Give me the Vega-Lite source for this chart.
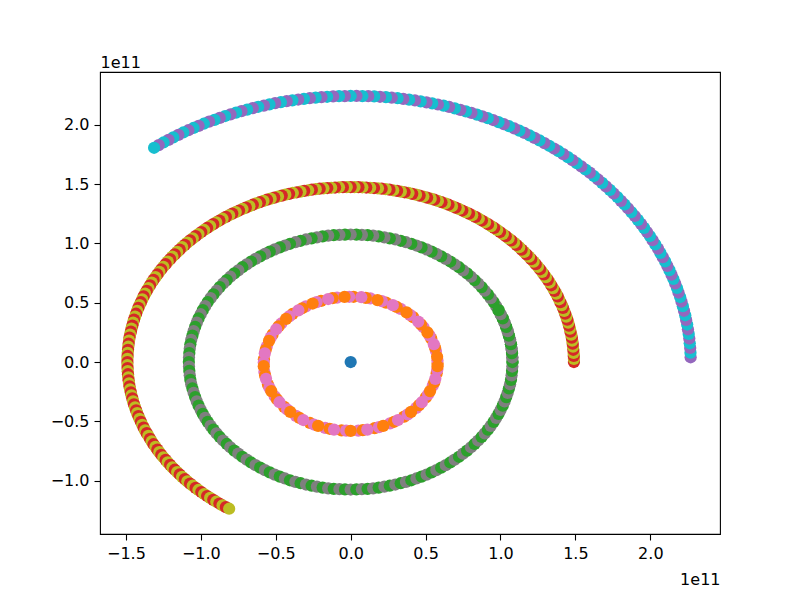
{
  "$schema": "https://vega.github.io/schema/vega-lite/v6.json",
  "description": "Orbits of the inner planets around the Sun, positions in units of 1e11 m.",
  "width": 620,
  "height": 462,
  "autosize": {"type": "none"},
  "padding": {"left": 100, "top": 72, "right": 80, "bottom": 66},
  "background": "white",
  "data": {
    "values": [
      {"series":"Me1","x":0.580,"y":-0.015},{"series":"Me2","x":0.569,"y":0.093},{"series":"Me1","x":0.538,"y":0.197},{"series":"Me2","x":0.486,"y":0.293},
      {"series":"Me1","x":0.417,"y":0.378},{"series":"Me2","x":0.333,"y":0.448},{"series":"Me1","x":0.236,"y":0.501},{"series":"Me2","x":0.131,"y":0.536},
      {"series":"Me1","x":0.020,"y":0.550},{"series":"Me2","x":-0.091,"y":0.543},{"series":"Me1","x":-0.198,"y":0.516},{"series":"Me2","x":-0.299,"y":0.469},
      {"series":"Me1","x":-0.388,"y":0.405},{"series":"Me2","x":-0.463,"y":0.325},{"series":"Me1","x":-0.521,"y":0.233},{"series":"Me2","x":-0.560,"y":0.131},
      {"series":"Me1","x":-0.579,"y":0.024},{"series":"Me2","x":-0.576,"y":-0.084},{"series":"Me1","x":-0.552,"y":-0.190},{"series":"Me2","x":-0.507,"y":-0.289},
      {"series":"Me1","x":-0.444,"y":-0.378},{"series":"Me2","x":-0.365,"y":-0.454},{"series":"Me1","x":-0.272,"y":-0.514},{"series":"Me2","x":-0.170,"y":-0.555},
      {"series":"Me1","x":-0.061,"y":-0.577},{"series":"Me2","x":0.051,"y":-0.578},{"series":"Me1","x":0.160,"y":-0.558},{"series":"Me2","x":0.263,"y":-0.518},
      {"series":"Me1","x":0.357,"y":-0.460},{"series":"Me2","x":0.438,"y":-0.386},{"series":"Me1","x":0.502,"y":-0.298},{"series":"Me2","x":0.548,"y":-0.199},
      {"series":"Me1","x":0.574,"y":-0.094},{"series":"Me2","x":0.579,"y":0.015},{"series":"Me1","x":0.563,"y":0.122},{"series":"Me2","x":0.526,"y":0.224},
      {"series":"Me1","x":0.469,"y":0.317},{"series":"Me2","x":0.396,"y":0.398},{"series":"Me1","x":0.307,"y":0.464},{"series":"Me2","x":0.208,"y":0.513},
      {"series":"Me1","x":0.101,"y":0.541},{"series":"Me2","x":-0.010,"y":0.550},{"series":"Me1","x":-0.121,"y":0.538},{"series":"Me2","x":-0.227,"y":0.505},
      {"series":"Me1","x":-0.324,"y":0.453},{"series":"Me2","x":-0.410,"y":0.385},{"series":"Me1","x":-0.481,"y":0.301},{"series":"Me2","x":-0.534,"y":0.206},
      {"series":"Me1","x":-0.567,"y":0.103},{"series":"Me2","x":-0.580,"y":-0.005},{"series":"Me1","x":-0.571,"y":-0.113},{"series":"Me2","x":-0.542,"y":-0.218},
      {"series":"Me1","x":-0.492,"y":-0.314},{"series":"Me2","x":-0.424,"y":-0.400},{"series":"Me1","x":-0.341,"y":-0.472},{"series":"Me2","x":-0.245,"y":-0.527},
      {"series":"Me1","x":-0.140,"y":-0.563},{"series":"Me2","x":-0.030,"y":-0.579},{"series":"Me1","x":0.081,"y":-0.575},{"series":"Me2","x":0.189,"y":-0.549},
      {"series":"Me1","x":0.290,"y":-0.504},{"series":"Me2","x":0.381,"y":-0.441},{"series":"Me1","x":0.457,"y":-0.363},{"series":"Me2","x":0.517,"y":-0.272},
      {"series":"Me1","x":0.558,"y":-0.171},{"series":"Me2","x":0.578,"y":-0.064},{"series":"Me1","x":0.577,"y":0.044},{"series":"Me2","x":0.555,"y":0.150},
      {"series":"Me1","x":0.512,"y":0.250},{"series":"Me2","x":0.451,"y":0.341},{"series":"Me1","x":0.373,"y":0.418},{"series":"Me2","x":0.281,"y":0.479},
      {"series":"Me1","x":0.179,"y":0.522},{"series":"Me2","x":0.071,"y":0.546},{"series":"Me1","x":-0.041,"y":0.549},{"series":"Me2","x":-0.150,"y":0.531},
      {"series":"Me1","x":-0.254,"y":0.493},{"series":"Me2","x":-0.349,"y":0.436},{"series":"Me1","x":-0.431,"y":0.363},{"series":"Me2","x":-0.497,"y":0.276},
      {"series":"Me1","x":-0.545,"y":0.178},{"series":"Me2","x":-0.573,"y":0.073},{"series":"Me1","x":-0.580,"y":-0.035},{"series":"Me2","x":-0.565,"y":-0.142},
      {"series":"Me1","x":-0.530,"y":-0.245},{"series":"Me2","x":-0.475,"y":-0.339},{"series":"Me1","x":-0.403,"y":-0.421},{"series":"Me2","x":-0.316,"y":-0.489},
      {"series":"Me1","x":-0.217,"y":-0.539},{"series":"Me2","x":-0.111,"y":-0.570},{"series":"Me1","x":0,"y":-0.580},{"series":"Me2","x":0.111,"y":-0.570},
      {"series":"Me1","x":0.217,"y":-0.539},{"series":"Me2","x":0.316,"y":-0.489},{"series":"Me1","x":0.403,"y":-0.421},{"series":"Me2","x":0.475,"y":-0.339},
      {"series":"Me1","x":0.530,"y":-0.245},{"series":"Me2","x":0.565,"y":-0.142},{"series":"Me1","x":0.580,"y":-0.035},

      {"series":"V1","x":1.080,"y":0},{"series":"V2","x":1.079,"y":0.038},{"series":"V1","x":1.077,"y":0.075},{"series":"V2","x":1.074,"y":0.112},
      {"series":"V1","x":1.070,"y":0.150},{"series":"V2","x":1.064,"y":0.187},{"series":"V1","x":1.056,"y":0.223},{"series":"V2","x":1.048,"y":0.260},
      {"series":"V1","x":1.038,"y":0.296},{"series":"V2","x":1.027,"y":0.332},{"series":"V1","x":1.015,"y":0.368},{"series":"V2","x":1.001,"y":0.403},
      {"series":"V1","x":0.987,"y":0.437},{"series":"V2","x":0.971,"y":0.471},{"series":"V1","x":0.954,"y":0.505},{"series":"V2","x":0.935,"y":0.538},
      {"series":"V1","x":0.916,"y":0.570},{"series":"V2","x":0.895,"y":0.601},{"series":"V1","x":0.874,"y":0.632},{"series":"V2","x":0.851,"y":0.662},
      {"series":"V1","x":0.827,"y":0.691},{"series":"V2","x":0.803,"y":0.719},{"series":"V1","x":0.777,"y":0.747},{"series":"V2","x":0.750,"y":0.773},
      {"series":"V1","x":0.723,"y":0.799},{"series":"V2","x":0.694,"y":0.823},{"series":"V1","x":0.665,"y":0.847},{"series":"V2","x":0.635,"y":0.870},
      {"series":"V1","x":0.604,"y":0.891},{"series":"V2","x":0.572,"y":0.912},{"series":"V1","x":0.540,"y":0.931},{"series":"V2","x":0.507,"y":0.949},
      {"series":"V1","x":0.473,"y":0.966},{"series":"V2","x":0.439,"y":0.982},{"series":"V1","x":0.405,"y":0.997},{"series":"V2","x":0.369,"y":1.010},
      {"series":"V1","x":0.334,"y":1.022},{"series":"V2","x":0.298,"y":1.033},{"series":"V1","x":0.261,"y":1.043},{"series":"V2","x":0.225,"y":1.051},
      {"series":"V1","x":0.187,"y":1.059},{"series":"V2","x":0.150,"y":1.065},{"series":"V1","x":0.113,"y":1.069},{"series":"V2","x":0.075,"y":1.072},
      {"series":"V1","x":0.038,"y":1.074},{"series":"V2","x":0,"y":1.075},
      {"series":"V1","x":-0.038,"y":1.074},{"series":"V2","x":-0.075,"y":1.072},{"series":"V1","x":-0.113,"y":1.069},{"series":"V2","x":-0.150,"y":1.065},
      {"series":"V1","x":-0.187,"y":1.059},{"series":"V2","x":-0.225,"y":1.051},{"series":"V1","x":-0.261,"y":1.043},{"series":"V2","x":-0.298,"y":1.033},
      {"series":"V1","x":-0.334,"y":1.022},{"series":"V2","x":-0.369,"y":1.010},{"series":"V1","x":-0.405,"y":0.997},{"series":"V2","x":-0.439,"y":0.982},
      {"series":"V1","x":-0.473,"y":0.966},{"series":"V2","x":-0.507,"y":0.949},{"series":"V1","x":-0.540,"y":0.931},{"series":"V2","x":-0.572,"y":0.912},
      {"series":"V1","x":-0.604,"y":0.891},{"series":"V2","x":-0.635,"y":0.870},{"series":"V1","x":-0.665,"y":0.847},{"series":"V2","x":-0.694,"y":0.823},
      {"series":"V1","x":-0.723,"y":0.799},{"series":"V2","x":-0.750,"y":0.773},{"series":"V1","x":-0.777,"y":0.747},{"series":"V2","x":-0.803,"y":0.719},
      {"series":"V1","x":-0.827,"y":0.691},{"series":"V2","x":-0.851,"y":0.662},{"series":"V1","x":-0.874,"y":0.632},{"series":"V2","x":-0.895,"y":0.601},
      {"series":"V1","x":-0.916,"y":0.570},{"series":"V2","x":-0.935,"y":0.538},{"series":"V1","x":-0.954,"y":0.505},{"series":"V2","x":-0.971,"y":0.471},
      {"series":"V1","x":-0.987,"y":0.437},{"series":"V2","x":-1.001,"y":0.403},{"series":"V1","x":-1.015,"y":0.368},{"series":"V2","x":-1.027,"y":0.332},
      {"series":"V1","x":-1.038,"y":0.296},{"series":"V2","x":-1.048,"y":0.260},{"series":"V1","x":-1.056,"y":0.223},{"series":"V2","x":-1.064,"y":0.187},
      {"series":"V1","x":-1.070,"y":0.150},{"series":"V2","x":-1.074,"y":0.112},{"series":"V1","x":-1.077,"y":0.075},{"series":"V2","x":-1.079,"y":0.038},
      {"series":"V1","x":-1.080,"y":0},
      {"series":"V2","x":-1.079,"y":-0.038},{"series":"V1","x":-1.077,"y":-0.075},{"series":"V2","x":-1.074,"y":-0.112},{"series":"V1","x":-1.070,"y":-0.150},
      {"series":"V2","x":-1.064,"y":-0.187},{"series":"V1","x":-1.056,"y":-0.223},{"series":"V2","x":-1.048,"y":-0.260},{"series":"V1","x":-1.038,"y":-0.296},
      {"series":"V2","x":-1.027,"y":-0.332},{"series":"V1","x":-1.015,"y":-0.368},{"series":"V2","x":-1.001,"y":-0.403},{"series":"V1","x":-0.987,"y":-0.437},
      {"series":"V2","x":-0.971,"y":-0.471},{"series":"V1","x":-0.954,"y":-0.505},{"series":"V2","x":-0.935,"y":-0.538},{"series":"V1","x":-0.916,"y":-0.570},
      {"series":"V2","x":-0.895,"y":-0.601},{"series":"V1","x":-0.874,"y":-0.632},{"series":"V2","x":-0.851,"y":-0.662},{"series":"V1","x":-0.827,"y":-0.691},
      {"series":"V2","x":-0.803,"y":-0.719},{"series":"V1","x":-0.777,"y":-0.747},{"series":"V2","x":-0.750,"y":-0.773},{"series":"V1","x":-0.723,"y":-0.799},
      {"series":"V2","x":-0.694,"y":-0.823},{"series":"V1","x":-0.665,"y":-0.847},{"series":"V2","x":-0.635,"y":-0.870},{"series":"V1","x":-0.604,"y":-0.891},
      {"series":"V2","x":-0.572,"y":-0.912},{"series":"V1","x":-0.540,"y":-0.931},{"series":"V2","x":-0.507,"y":-0.949},{"series":"V1","x":-0.473,"y":-0.966},
      {"series":"V2","x":-0.439,"y":-0.982},{"series":"V1","x":-0.405,"y":-0.997},{"series":"V2","x":-0.369,"y":-1.010},{"series":"V1","x":-0.334,"y":-1.022},
      {"series":"V2","x":-0.298,"y":-1.033},{"series":"V1","x":-0.261,"y":-1.043},{"series":"V2","x":-0.225,"y":-1.051},{"series":"V1","x":-0.187,"y":-1.059},
      {"series":"V2","x":-0.150,"y":-1.065},{"series":"V1","x":-0.113,"y":-1.069},{"series":"V2","x":-0.075,"y":-1.072},{"series":"V1","x":-0.038,"y":-1.074},
      {"series":"V2","x":0,"y":-1.075},
      {"series":"V1","x":0.038,"y":-1.074},{"series":"V2","x":0.075,"y":-1.072},{"series":"V1","x":0.113,"y":-1.069},{"series":"V2","x":0.150,"y":-1.065},
      {"series":"V1","x":0.187,"y":-1.059},{"series":"V2","x":0.225,"y":-1.051},{"series":"V1","x":0.261,"y":-1.043},{"series":"V2","x":0.298,"y":-1.033},
      {"series":"V1","x":0.334,"y":-1.022},{"series":"V2","x":0.369,"y":-1.010},{"series":"V1","x":0.405,"y":-0.997},{"series":"V2","x":0.439,"y":-0.982},
      {"series":"V1","x":0.473,"y":-0.966},{"series":"V2","x":0.507,"y":-0.949},{"series":"V1","x":0.540,"y":-0.931},{"series":"V2","x":0.572,"y":-0.912},
      {"series":"V1","x":0.604,"y":-0.891},{"series":"V2","x":0.635,"y":-0.870},{"series":"V1","x":0.665,"y":-0.847},{"series":"V2","x":0.694,"y":-0.823},
      {"series":"V1","x":0.723,"y":-0.799},{"series":"V2","x":0.750,"y":-0.773},{"series":"V1","x":0.777,"y":-0.747},{"series":"V2","x":0.803,"y":-0.719},
      {"series":"V1","x":0.827,"y":-0.691},{"series":"V2","x":0.851,"y":-0.662},{"series":"V1","x":0.874,"y":-0.632},{"series":"V2","x":0.895,"y":-0.601},
      {"series":"V1","x":0.916,"y":-0.570},{"series":"V2","x":0.935,"y":-0.538},{"series":"V1","x":0.954,"y":-0.505},{"series":"V2","x":0.971,"y":-0.471},
      {"series":"V1","x":0.987,"y":-0.437},{"series":"V2","x":1.001,"y":-0.403},{"series":"V1","x":1.015,"y":-0.368},{"series":"V2","x":1.027,"y":-0.332},
      {"series":"V1","x":1.038,"y":-0.296},{"series":"V2","x":1.048,"y":-0.260},{"series":"V1","x":1.056,"y":-0.223},{"series":"V2","x":1.064,"y":-0.187},
      {"series":"V1","x":1.070,"y":-0.150},{"series":"V2","x":1.074,"y":-0.112},{"series":"V1","x":1.077,"y":-0.075},{"series":"V2","x":1.079,"y":-0.038},
      {"series":"V1","x":1.080,"y":0},{"series":"V2","x":1.079,"y":0.038},{"series":"V1","x":1.077,"y":0.075},{"series":"V2","x":1.074,"y":0.112},
      {"series":"V1","x":1.070,"y":0.150},{"series":"V2","x":1.064,"y":0.187},{"series":"V1","x":1.056,"y":0.223},{"series":"V2","x":1.048,"y":0.260},
      {"series":"V1","x":1.038,"y":0.296},{"series":"V2","x":1.027,"y":0.332},{"series":"V1","x":1.015,"y":0.368},{"series":"V2","x":1.001,"y":0.403},
      {"series":"V1","x":0.987,"y":0.437},

      {"series":"E1","x":1.490,"y":0},{"series":"E2","x":1.490,"y":0.026},{"series":"E1","x":1.489,"y":0.051},{"series":"E2","x":1.488,"y":0.077},
      {"series":"E1","x":1.486,"y":0.103},{"series":"E2","x":1.484,"y":0.129},{"series":"E1","x":1.482,"y":0.154},{"series":"E2","x":1.479,"y":0.180},
      {"series":"E1","x":1.476,"y":0.205},{"series":"E2","x":1.472,"y":0.231},{"series":"E1","x":1.467,"y":0.256},{"series":"E2","x":1.463,"y":0.281},
      {"series":"E1","x":1.457,"y":0.307},{"series":"E2","x":1.452,"y":0.332},{"series":"E1","x":1.446,"y":0.357},{"series":"E2","x":1.439,"y":0.382},
      {"series":"E1","x":1.432,"y":0.407},{"series":"E2","x":1.425,"y":0.431},{"series":"E1","x":1.417,"y":0.456},{"series":"E2","x":1.409,"y":0.480},
      {"series":"E1","x":1.400,"y":0.504},{"series":"E2","x":1.391,"y":0.529},{"series":"E1","x":1.382,"y":0.553},{"series":"E2","x":1.372,"y":0.576},
      {"series":"E1","x":1.361,"y":0.600},{"series":"E2","x":1.350,"y":0.623},{"series":"E1","x":1.339,"y":0.647},{"series":"E2","x":1.328,"y":0.670},
      {"series":"E1","x":1.316,"y":0.693},{"series":"E2","x":1.303,"y":0.715},{"series":"E1","x":1.290,"y":0.738},{"series":"E2","x":1.277,"y":0.760},
      {"series":"E1","x":1.264,"y":0.782},{"series":"E2","x":1.250,"y":0.803},{"series":"E1","x":1.235,"y":0.825},{"series":"E2","x":1.221,"y":0.846},
      {"series":"E1","x":1.205,"y":0.867},{"series":"E2","x":1.190,"y":0.888},{"series":"E1","x":1.174,"y":0.908},{"series":"E2","x":1.158,"y":0.928},
      {"series":"E1","x":1.141,"y":0.948},{"series":"E2","x":1.125,"y":0.968},{"series":"E1","x":1.107,"y":0.987},{"series":"E2","x":1.090,"y":1.006},
      {"series":"E1","x":1.072,"y":1.025},{"series":"E2","x":1.054,"y":1.043},{"series":"E1","x":1.035,"y":1.061},{"series":"E2","x":1.016,"y":1.079},
      {"series":"E1","x":0.997,"y":1.096},{"series":"E2","x":0.978,"y":1.113},{"series":"E1","x":0.958,"y":1.130},{"series":"E2","x":0.938,"y":1.146},
      {"series":"E1","x":0.917,"y":1.162},{"series":"E2","x":0.897,"y":1.178},{"series":"E1","x":0.876,"y":1.193},{"series":"E2","x":0.855,"y":1.208},
      {"series":"E1","x":0.833,"y":1.223},{"series":"E2","x":0.811,"y":1.237},{"series":"E1","x":0.790,"y":1.251},{"series":"E2","x":0.767,"y":1.264},
      {"series":"E1","x":0.745,"y":1.277},{"series":"E2","x":0.722,"y":1.290},{"series":"E1","x":0.700,"y":1.302},{"series":"E2","x":0.676,"y":1.314},
      {"series":"E1","x":0.653,"y":1.326},{"series":"E2","x":0.630,"y":1.337},{"series":"E1","x":0.606,"y":1.347},{"series":"E2","x":0.582,"y":1.358},
      {"series":"E1","x":0.558,"y":1.368},{"series":"E2","x":0.534,"y":1.377},{"series":"E1","x":0.510,"y":1.386},{"series":"E2","x":0.485,"y":1.395},
      {"series":"E1","x":0.460,"y":1.403},{"series":"E2","x":0.436,"y":1.411},{"series":"E1","x":0.411,"y":1.418},{"series":"E2","x":0.386,"y":1.425},
      {"series":"E1","x":0.360,"y":1.431},{"series":"E2","x":0.335,"y":1.437},{"series":"E1","x":0.310,"y":1.443},{"series":"E2","x":0.284,"y":1.448},
      {"series":"E1","x":0.259,"y":1.453},{"series":"E2","x":0.233,"y":1.457},{"series":"E1","x":0.207,"y":1.461},{"series":"E2","x":0.182,"y":1.464},
      {"series":"E1","x":0.156,"y":1.467},{"series":"E2","x":0.130,"y":1.469},{"series":"E1","x":0.104,"y":1.471},{"series":"E2","x":0.078,"y":1.473},
      {"series":"E1","x":0.052,"y":1.474},{"series":"E2","x":0.026,"y":1.475},{"series":"E1","x":0,"y":1.475},
      {"series":"E2","x":-0.026,"y":1.475},{"series":"E1","x":-0.052,"y":1.474},{"series":"E2","x":-0.078,"y":1.473},{"series":"E1","x":-0.104,"y":1.471},
      {"series":"E2","x":-0.130,"y":1.469},{"series":"E1","x":-0.156,"y":1.467},{"series":"E2","x":-0.182,"y":1.464},{"series":"E1","x":-0.207,"y":1.461},
      {"series":"E2","x":-0.233,"y":1.457},{"series":"E1","x":-0.259,"y":1.453},{"series":"E2","x":-0.284,"y":1.448},{"series":"E1","x":-0.310,"y":1.443},
      {"series":"E2","x":-0.335,"y":1.437},{"series":"E1","x":-0.360,"y":1.431},{"series":"E2","x":-0.386,"y":1.425},{"series":"E1","x":-0.411,"y":1.418},
      {"series":"E2","x":-0.436,"y":1.411},{"series":"E1","x":-0.460,"y":1.403},{"series":"E2","x":-0.485,"y":1.395},{"series":"E1","x":-0.510,"y":1.386},
      {"series":"E2","x":-0.534,"y":1.377},{"series":"E1","x":-0.558,"y":1.368},{"series":"E2","x":-0.582,"y":1.358},{"series":"E1","x":-0.606,"y":1.347},
      {"series":"E2","x":-0.630,"y":1.337},{"series":"E1","x":-0.653,"y":1.326},{"series":"E2","x":-0.676,"y":1.314},{"series":"E1","x":-0.700,"y":1.302},
      {"series":"E2","x":-0.722,"y":1.290},{"series":"E1","x":-0.745,"y":1.277},{"series":"E2","x":-0.767,"y":1.264},{"series":"E1","x":-0.790,"y":1.251},
      {"series":"E2","x":-0.811,"y":1.237},{"series":"E1","x":-0.833,"y":1.223},{"series":"E2","x":-0.855,"y":1.208},{"series":"E1","x":-0.876,"y":1.193},
      {"series":"E2","x":-0.897,"y":1.178},{"series":"E1","x":-0.917,"y":1.162},{"series":"E2","x":-0.938,"y":1.146},{"series":"E1","x":-0.958,"y":1.130},
      {"series":"E2","x":-0.978,"y":1.113},{"series":"E1","x":-0.997,"y":1.096},{"series":"E2","x":-1.016,"y":1.079},{"series":"E1","x":-1.035,"y":1.061},
      {"series":"E2","x":-1.054,"y":1.043},{"series":"E1","x":-1.072,"y":1.025},{"series":"E2","x":-1.090,"y":1.006},{"series":"E1","x":-1.107,"y":0.987},
      {"series":"E2","x":-1.125,"y":0.968},{"series":"E1","x":-1.141,"y":0.948},{"series":"E2","x":-1.158,"y":0.928},{"series":"E1","x":-1.174,"y":0.908},
      {"series":"E2","x":-1.190,"y":0.888},{"series":"E1","x":-1.205,"y":0.867},{"series":"E2","x":-1.221,"y":0.846},{"series":"E1","x":-1.235,"y":0.825},
      {"series":"E2","x":-1.250,"y":0.803},{"series":"E1","x":-1.264,"y":0.782},{"series":"E2","x":-1.277,"y":0.760},{"series":"E1","x":-1.290,"y":0.738},
      {"series":"E2","x":-1.303,"y":0.715},{"series":"E1","x":-1.316,"y":0.693},{"series":"E2","x":-1.328,"y":0.670},{"series":"E1","x":-1.339,"y":0.647},
      {"series":"E2","x":-1.350,"y":0.623},{"series":"E1","x":-1.361,"y":0.600},{"series":"E2","x":-1.372,"y":0.576},{"series":"E1","x":-1.382,"y":0.553},
      {"series":"E2","x":-1.391,"y":0.529},{"series":"E1","x":-1.400,"y":0.504},{"series":"E2","x":-1.409,"y":0.480},{"series":"E1","x":-1.417,"y":0.456},
      {"series":"E2","x":-1.425,"y":0.431},{"series":"E1","x":-1.432,"y":0.407},{"series":"E2","x":-1.439,"y":0.382},{"series":"E1","x":-1.446,"y":0.357},
      {"series":"E2","x":-1.452,"y":0.332},{"series":"E1","x":-1.457,"y":0.307},{"series":"E2","x":-1.463,"y":0.281},{"series":"E1","x":-1.467,"y":0.256},
      {"series":"E2","x":-1.472,"y":0.231},{"series":"E1","x":-1.476,"y":0.205},{"series":"E2","x":-1.479,"y":0.180},{"series":"E1","x":-1.482,"y":0.154},
      {"series":"E2","x":-1.484,"y":0.129},{"series":"E1","x":-1.486,"y":0.103},{"series":"E2","x":-1.488,"y":0.077},{"series":"E1","x":-1.489,"y":0.051},
      {"series":"E2","x":-1.490,"y":0.026},{"series":"E1","x":-1.490,"y":0},
      {"series":"E2","x":-1.490,"y":-0.026},{"series":"E1","x":-1.489,"y":-0.051},{"series":"E2","x":-1.488,"y":-0.077},{"series":"E1","x":-1.486,"y":-0.103},
      {"series":"E2","x":-1.484,"y":-0.129},{"series":"E1","x":-1.482,"y":-0.154},{"series":"E2","x":-1.479,"y":-0.180},{"series":"E1","x":-1.476,"y":-0.205},
      {"series":"E2","x":-1.472,"y":-0.231},{"series":"E1","x":-1.467,"y":-0.256},{"series":"E2","x":-1.463,"y":-0.281},{"series":"E1","x":-1.457,"y":-0.307},
      {"series":"E2","x":-1.452,"y":-0.332},{"series":"E1","x":-1.446,"y":-0.357},{"series":"E2","x":-1.439,"y":-0.382},{"series":"E1","x":-1.432,"y":-0.407},
      {"series":"E2","x":-1.425,"y":-0.431},{"series":"E1","x":-1.417,"y":-0.456},{"series":"E2","x":-1.409,"y":-0.480},{"series":"E1","x":-1.400,"y":-0.504},
      {"series":"E2","x":-1.391,"y":-0.529},{"series":"E1","x":-1.382,"y":-0.553},{"series":"E2","x":-1.372,"y":-0.576},{"series":"E1","x":-1.361,"y":-0.600},
      {"series":"E2","x":-1.350,"y":-0.623},{"series":"E1","x":-1.339,"y":-0.647},{"series":"E2","x":-1.328,"y":-0.670},{"series":"E1","x":-1.316,"y":-0.693},
      {"series":"E2","x":-1.303,"y":-0.715},{"series":"E1","x":-1.290,"y":-0.738},{"series":"E2","x":-1.277,"y":-0.760},{"series":"E1","x":-1.264,"y":-0.782},
      {"series":"E2","x":-1.250,"y":-0.803},{"series":"E1","x":-1.235,"y":-0.825},{"series":"E2","x":-1.221,"y":-0.846},{"series":"E1","x":-1.205,"y":-0.867},
      {"series":"E2","x":-1.190,"y":-0.888},{"series":"E1","x":-1.174,"y":-0.908},{"series":"E2","x":-1.158,"y":-0.928},{"series":"E1","x":-1.141,"y":-0.948},
      {"series":"E2","x":-1.125,"y":-0.968},{"series":"E1","x":-1.107,"y":-0.987},{"series":"E2","x":-1.090,"y":-1.006},{"series":"E1","x":-1.072,"y":-1.025},
      {"series":"E2","x":-1.054,"y":-1.043},{"series":"E1","x":-1.035,"y":-1.061},{"series":"E2","x":-1.016,"y":-1.079},{"series":"E1","x":-0.997,"y":-1.096},
      {"series":"E2","x":-0.978,"y":-1.113},{"series":"E1","x":-0.958,"y":-1.130},{"series":"E2","x":-0.938,"y":-1.146},{"series":"E1","x":-0.917,"y":-1.162},
      {"series":"E2","x":-0.897,"y":-1.178},{"series":"E1","x":-0.876,"y":-1.193},{"series":"E2","x":-0.855,"y":-1.208},{"series":"E1","x":-0.833,"y":-1.223},
      {"series":"E2","x":-0.811,"y":-1.237},

      {"series":"Ma1","x":2.269,"y":0.040},{"series":"Ma2","x":2.268,"y":0.079},{"series":"Ma1","x":2.266,"y":0.119},{"series":"Ma2","x":2.263,"y":0.158},
      {"series":"Ma1","x":2.260,"y":0.198},{"series":"Ma2","x":2.256,"y":0.237},{"series":"Ma1","x":2.251,"y":0.276},{"series":"Ma2","x":2.246,"y":0.316},
      {"series":"Ma1","x":2.239,"y":0.355},{"series":"Ma2","x":2.233,"y":0.394},{"series":"Ma1","x":2.225,"y":0.432},{"series":"Ma2","x":2.217,"y":0.471},
      {"series":"Ma1","x":2.208,"y":0.510},{"series":"Ma2","x":2.199,"y":0.548},{"series":"Ma1","x":2.188,"y":0.586},{"series":"Ma2","x":2.178,"y":0.624},
      {"series":"Ma1","x":2.166,"y":0.662},{"series":"Ma2","x":2.154,"y":0.700},{"series":"Ma1","x":2.141,"y":0.737},{"series":"Ma2","x":2.128,"y":0.774},
      {"series":"Ma1","x":2.113,"y":0.811},{"series":"Ma2","x":2.099,"y":0.848},{"series":"Ma1","x":2.083,"y":0.884},{"series":"Ma2","x":2.067,"y":0.920},
      {"series":"Ma1","x":2.051,"y":0.956},{"series":"Ma2","x":2.033,"y":0.992},{"series":"Ma1","x":2.015,"y":1.027},{"series":"Ma2","x":1.997,"y":1.062},
      {"series":"Ma1","x":1.978,"y":1.096},{"series":"Ma2","x":1.958,"y":1.131},{"series":"Ma1","x":1.938,"y":1.164},{"series":"Ma2","x":1.917,"y":1.198},
      {"series":"Ma1","x":1.896,"y":1.231},{"series":"Ma2","x":1.873,"y":1.264},{"series":"Ma1","x":1.851,"y":1.296},{"series":"Ma2","x":1.828,"y":1.328},
      {"series":"Ma1","x":1.804,"y":1.359},{"series":"Ma2","x":1.780,"y":1.391},{"series":"Ma1","x":1.755,"y":1.421},{"series":"Ma2","x":1.730,"y":1.451},
      {"series":"Ma1","x":1.704,"y":1.481},{"series":"Ma2","x":1.678,"y":1.510},{"series":"Ma1","x":1.651,"y":1.539},{"series":"Ma2","x":1.623,"y":1.568},
      {"series":"Ma1","x":1.596,"y":1.596},{"series":"Ma2","x":1.567,"y":1.623},{"series":"Ma1","x":1.539,"y":1.650},{"series":"Ma2","x":1.509,"y":1.676},
      {"series":"Ma1","x":1.480,"y":1.702},{"series":"Ma2","x":1.450,"y":1.727},{"series":"Ma1","x":1.419,"y":1.752},{"series":"Ma2","x":1.388,"y":1.777},
      {"series":"Ma1","x":1.357,"y":1.800},{"series":"Ma2","x":1.325,"y":1.823},{"series":"Ma1","x":1.293,"y":1.846},{"series":"Ma2","x":1.260,"y":1.868},
      {"series":"Ma1","x":1.227,"y":1.890},{"series":"Ma2","x":1.194,"y":1.910},{"series":"Ma1","x":1.160,"y":1.931},{"series":"Ma2","x":1.126,"y":1.950},
      {"series":"Ma1","x":1.092,"y":1.969},{"series":"Ma2","x":1.057,"y":1.988},{"series":"Ma1","x":1.022,"y":2.006},{"series":"Ma2","x":0.987,"y":2.023},
      {"series":"Ma1","x":0.951,"y":2.040},{"series":"Ma2","x":0.915,"y":2.056},{"series":"Ma1","x":0.879,"y":2.071},{"series":"Ma2","x":0.843,"y":2.086},
      {"series":"Ma1","x":0.806,"y":2.100},{"series":"Ma2","x":0.769,"y":2.113},{"series":"Ma1","x":0.732,"y":2.126},{"series":"Ma2","x":0.695,"y":2.139},
      {"series":"Ma1","x":0.657,"y":2.150},{"series":"Ma2","x":0.620,"y":2.161},{"series":"Ma1","x":0.582,"y":2.171},{"series":"Ma2","x":0.544,"y":2.181},
      {"series":"Ma1","x":0.506,"y":2.189},{"series":"Ma2","x":0.467,"y":2.197},{"series":"Ma1","x":0.429,"y":2.205},{"series":"Ma2","x":0.390,"y":2.212},
      {"series":"Ma1","x":0.351,"y":2.218},{"series":"Ma2","x":0.313,"y":2.224},{"series":"Ma1","x":0.274,"y":2.228},{"series":"Ma2","x":0.235,"y":2.233},
      {"series":"Ma1","x":0.196,"y":2.236},{"series":"Ma2","x":0.157,"y":2.239},{"series":"Ma1","x":0.117,"y":2.241},{"series":"Ma2","x":0.078,"y":2.242},
      {"series":"Ma1","x":0.039,"y":2.243},{"series":"Ma2","x":0,"y":2.243},{"series":"Ma1","x":-0.039,"y":2.242},{"series":"Ma2","x":-0.078,"y":2.241},
      {"series":"Ma1","x":-0.117,"y":2.239},{"series":"Ma2","x":-0.157,"y":2.236},{"series":"Ma1","x":-0.195,"y":2.233},{"series":"Ma2","x":-0.234,"y":2.229},
      {"series":"Ma1","x":-0.273,"y":2.224},{"series":"Ma2","x":-0.312,"y":2.219},{"series":"Ma1","x":-0.350,"y":2.213},{"series":"Ma2","x":-0.389,"y":2.206},
      {"series":"Ma1","x":-0.427,"y":2.199},{"series":"Ma2","x":-0.466,"y":2.190},{"series":"Ma1","x":-0.504,"y":2.182},{"series":"Ma2","x":-0.542,"y":2.172},
      {"series":"Ma1","x":-0.579,"y":2.162},{"series":"Ma2","x":-0.617,"y":2.152},{"series":"Ma1","x":-0.654,"y":2.140},{"series":"Ma2","x":-0.691,"y":2.128},
      {"series":"Ma1","x":-0.729,"y":2.115},{"series":"Ma2","x":-0.765,"y":2.102},{"series":"Ma1","x":-0.802,"y":2.088},{"series":"Ma2","x":-0.838,"y":2.074},
      {"series":"Ma1","x":-0.874,"y":2.058},{"series":"Ma2","x":-0.909,"y":2.042},{"series":"Ma1","x":-0.945,"y":2.026},{"series":"Ma2","x":-0.980,"y":2.009},
      {"series":"Ma1","x":-1.015,"y":1.991},{"series":"Ma2","x":-1.049,"y":1.973},{"series":"Ma1","x":-1.083,"y":1.954},{"series":"Ma2","x":-1.117,"y":1.935},
      {"series":"Ma1","x":-1.150,"y":1.915},{"series":"Ma2","x":-1.184,"y":1.894},{"series":"Ma1","x":-1.216,"y":1.873},{"series":"Ma2","x":-1.249,"y":1.851},
      {"series":"Ma1","x":-1.281,"y":1.829},{"series":"Ma2","x":-1.312,"y":1.806},

      {"series":"Sun","x":0,"y":0}
    ]
  },
  "mark": {"type": "point", "filled": true, "opacity": 1, "size": 150, "strokeWidth": 0},
  "encoding": {
    "x": {
      "field": "x",
      "type": "quantitative",
      "scale": {"domain": [-1.673, 2.465], "nice": false, "zero": false},
      "axis": {
        "values": [-1.5, -1, -0.5, 0, 0.5, 1, 1.5, 2],
        "format": ".1f",
        "title": "1e11",
        "titleAnchor": null,
        "titleX": 620,
        "titleY": 50,
        "titleAlign": "right",
        "titleBaseline": "alphabetic"
      }
    },
    "y": {
      "field": "y",
      "type": "quantitative",
      "scale": {"domain": [-1.45, 2.445], "nice": false, "zero": false},
      "axis": {
        "values": [-1, -0.5, 0, 0.5, 1, 1.5, 2],
        "format": ".1f",
        "title": "1e11",
        "titleAngle": 0,
        "titleX": 0,
        "titleY": -5,
        "titleAlign": "left",
        "titleBaseline": "alphabetic"
      }
    },
    "color": {
      "field": "series",
      "type": "nominal",
      "scale": {
        "domain": ["Sun", "Me1", "Me2", "V1", "V2", "E1", "E2", "Ma1", "Ma2"],
        "range": ["#1f77b4", "#ff7f0e", "#e377c2", "#2ca02c", "#7f7f7f", "#d62728", "#bcbd22", "#9467bd", "#17becf"]
      },
      "legend": null
    }
  },
  "config": {
    "view": {"stroke": "black", "strokeWidth": 1.1},
    "axis": {
      "domain": false,
      "grid": false,
      "ticks": true,
      "tickColor": "black",
      "tickSize": 6,
      "tickWidth": 1.1,
      "labelFont": "DejaVu Sans",
      "labelFontSize": 16,
      "labelColor": "black",
      "labelPadding": 5,
      "titleFont": "DejaVu Sans",
      "titleFontSize": 16,
      "titleFontWeight": "normal",
      "titleColor": "black"
    }
  }
}
